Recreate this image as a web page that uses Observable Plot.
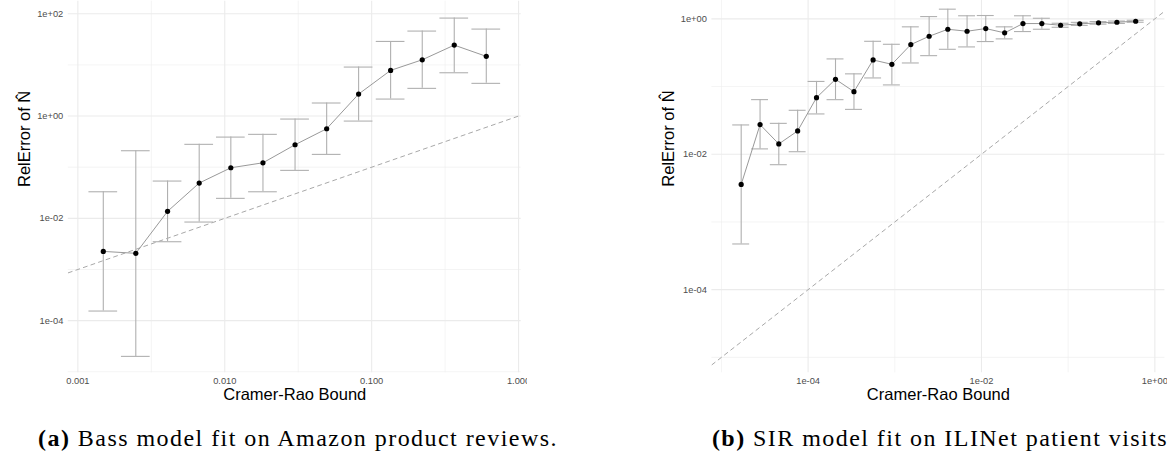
<!DOCTYPE html>
<html><head><meta charset="utf-8">
<script src="https://cdn.jsdelivr.net/npm/d3@7"></script>
<script src="https://cdn.jsdelivr.net/npm/@observablehq/plot@0.6"></script>
<style>
html,body{margin:0;padding:0;background:#fff;}
#page{position:relative;width:1167px;height:458px;overflow:hidden;background:#fff;}
.panel{position:absolute;top:0;}
.cap{position:absolute;font-family:"Liberation Serif","Times New Roman",serif;font-size:24px;letter-spacing:1.45px;color:#000;white-space:nowrap;line-height:1;text-align:center;}
</style></head><body>
<div id="page">
<div id="pa" class="panel" style="left:0px"></div>
<div id="pb" class="panel" style="left:590px"></div>
<div class="cap" id="capA" style="left:0px;width:596px;top:426px"></div>
<div class="cap" id="capB" style="left:640px;width:600px;top:426px"></div>
</div>
<script>
// ---- Panel (a): Bass model, Amazon product reviews ----
const crbA = [0.00149, 0.00248, 0.00408, 0.0067, 0.0110, 0.0182, 0.0301, 0.0494, 0.0815, 0.1346, 0.221, 0.365, 0.603];
const relA = [0.00226, 0.00207, 0.0137, 0.049, 0.0975, 0.122, 0.275, 0.565, 2.69, 7.82, 12.6, 24.4, 14.7];
const loA  = [1.54e-4, 2.0e-5, 0.00349, 0.00847, 0.0246, 0.0331, 0.0867, 0.178, 0.798, 2.15, 3.48, 7.03, 4.36];
const hiA  = [0.0331, 0.21, 0.0536, 0.280, 0.388, 0.439, 0.874, 1.80, 9.08, 28.8, 45.9, 82.4, 50.2];

// ---- Panel (b): SIR model, ILINet patient visits ----
const crbB = [1.69e-5, 2.79e-5, 4.59e-5, 7.57e-5, 1.25e-4, 2.07e-4, 3.38e-4, 5.62e-4, 9.25e-4, 1.53e-3, 2.49e-3, 4.09e-3, 6.82e-3, 1.12e-2, 1.85e-2, 3.01e-2, 4.97e-2, 8.18e-2, 0.136, 0.224, 0.365, 0.601];
const relB = [3.58e-3, 0.0274, 0.0142, 0.0221, 0.0686, 0.128, 0.0841, 0.247, 0.213, 0.417, 0.553, 0.702, 0.656, 0.719, 0.621, 0.852, 0.852, 0.804, 0.844, 0.873, 0.891, 0.922];
const loB  = [4.73e-4, 0.0120, 0.00701, 0.0109, 0.0394, 0.064, 0.046, 0.134, 0.1057, 0.223, 0.286, 0.355, 0.385, 0.462, 0.506, 0.649, 0.702, 0.751, 0.801, 0.835, 0.855, 0.891];
const hiB  = [0.0271, 0.0641, 0.0286, 0.0446, 0.119, 0.256, 0.154, 0.466, 0.421, 0.762, 1.08, 1.39, 1.11, 1.12, 0.762, 1.11, 1.02, 0.861, 0.888, 0.912, 0.928, 0.953];

// ---- Tick breaks and labels ----
const xMajorA = [0.001, 0.01, 0.1, 1];
const xLabelsA = ["0.001", "0.010", "0.100", "1.000"];
const xMinorA = [0.00316228, 0.0316228, 0.316228];
const yMajorA = [1e2, 1, 1e-2, 1e-4];
const yLabelsA = ["1e+02", "1e+00", "1e-02", "1e-04"];
const yMinorA = [1e1, 1e-1, 1e-3, 1e-5];

const xMajorB = [1e-4, 1e-2, 1];
const xLabelsB = ["1e-04", "1e-02", "1e+00"];
const xMinorB = [1e-5, 1e-3, 1e-1];
const yMajorB = [1, 1e-2, 1e-4];
const yLabelsB = ["1e+00", "1e-02", "1e-04"];
const yMinorB = [1e-1, 1e-3, 1e-5];

// ---- Text ----
const xTitle = "Cramer-Rao Bound";
const yTitle = "RelError of N\u0302";
const captionA = ["(a)", " Bass model fit on Amazon product reviews."];
const captionB = ["(b)", " SIR model fit on ILINet patient visits"];

function panel(o) {
  const rows = o.crb.map((c, i) => ({crb: c, rel: o.rel[i], lo: o.lo[i], hi: o.hi[i]}));
  const f = Math.pow(10, o.capHalf);
  const diag = [{v: o.xDomain[0]}, {v: o.xDomain[1]}];
  const eb = {stroke: "#b0b0b0", strokeWidth: 1.1};
  return Plot.plot({
    width: o.width, height: o.height,
    marginLeft: o.mL, marginRight: o.mR, marginTop: o.mT, marginBottom: o.mB,
    x: {type: "log", domain: o.xDomain, axis: null},
    y: {type: "log", domain: o.yDomain, axis: null},
    style: {fontFamily: "'Liberation Sans', Arial, Helvetica, sans-serif", background: "#fff"},
    marks: [
      Plot.ruleX(o.xMinor, {stroke: "#ececec", strokeWidth: 0.6}),
      Plot.ruleY(o.yMinor, {stroke: "#ececec", strokeWidth: 0.6}),
      Plot.ruleX(o.xMajor, {stroke: "#ebebeb", strokeWidth: 1.1}),
      Plot.ruleY(o.yMajor, {stroke: "#ebebeb", strokeWidth: 1.1}),
      Plot.line(diag, {x: "v", y: "v", stroke: "#a8a8a8", strokeWidth: 1, strokeDasharray: "4,4", clip: true}),
      Plot.ruleX(rows, {x: "crb", y1: "lo", y2: "hi", ...eb}),
      Plot.ruleY(rows, {y: "hi", x1: d => d.crb / f, x2: d => d.crb * f, ...eb}),
      Plot.ruleY(rows, {y: "lo", x1: d => d.crb / f, x2: d => d.crb * f, ...eb}),
      Plot.line(rows, {x: "crb", y: "rel", stroke: "#999999", strokeWidth: 1}),
      Plot.dot(rows, {x: "crb", y: "rel", r: 2.6, fill: "#000", stroke: "none"}),
      Plot.text(o.xMajor, {x: d => d, text: (d, i) => o.xLabels[i], frameAnchor: "bottom", dy: 10.7, fontSize: 9.3, fill: "#4d4d4d"}),
      Plot.text(o.yMajor, {y: d => d, text: (d, i) => o.yLabels[i], frameAnchor: "left", textAnchor: "end", dx: -5, fontSize: 9.3, fill: "#4d4d4d"}),
      Plot.text([xTitle], {frameAnchor: "bottom", dy: 27.5, fontSize: 16.5, fill: "#000"}),
      Plot.text([yTitle], {frameAnchor: "left", rotate: -90, dx: -43.3, fontSize: 16.5, fill: "#000"})
    ]
  });
}

document.getElementById("pa").appendChild(panel({
  crb: crbA, rel: relA, lo: loA, hi: hiA, capHalf: 0.0977,
  xDomain: [Math.pow(10, -3.065), Math.pow(10, 0.018)],
  yDomain: [Math.pow(10, -5.02), Math.pow(10, 2.246)],
  xMajor: xMajorA, xLabels: xLabelsA, xMinor: xMinorA,
  yMajor: yMajorA, yLabels: yLabelsA, yMinor: yMinorA,
  width: 527, height: 410, mL: 67.8, mR: 6.3, mT: 0.7, mB: 37.7
}));

document.getElementById("pb").appendChild(panel({
  crb: crbB, rel: relB, lo: loB, hi: hiB, capHalf: 0.0977,
  xDomain: [Math.pow(10, -5.11), Math.pow(10, 0.116)],
  yDomain: [Math.pow(10, -5.228), Math.pow(10, 0.271)],
  xMajor: xMajorB, xLabels: xLabelsB, xMinor: xMinorB,
  yMajor: yMajorB, yLabels: yLabelsB, yMinor: yMinorB,
  width: 577, height: 410, mL: 121.4, mR: 2.6, mT: 0, mB: 37.7
}));

function caption(id, parts) {
  const el = document.getElementById(id);
  const b = document.createElement("b");
  b.textContent = parts[0];
  el.appendChild(b);
  el.appendChild(document.createTextNode(parts[1]));
}
caption("capA", captionA);
caption("capB", captionB);
</script>
</body></html>
